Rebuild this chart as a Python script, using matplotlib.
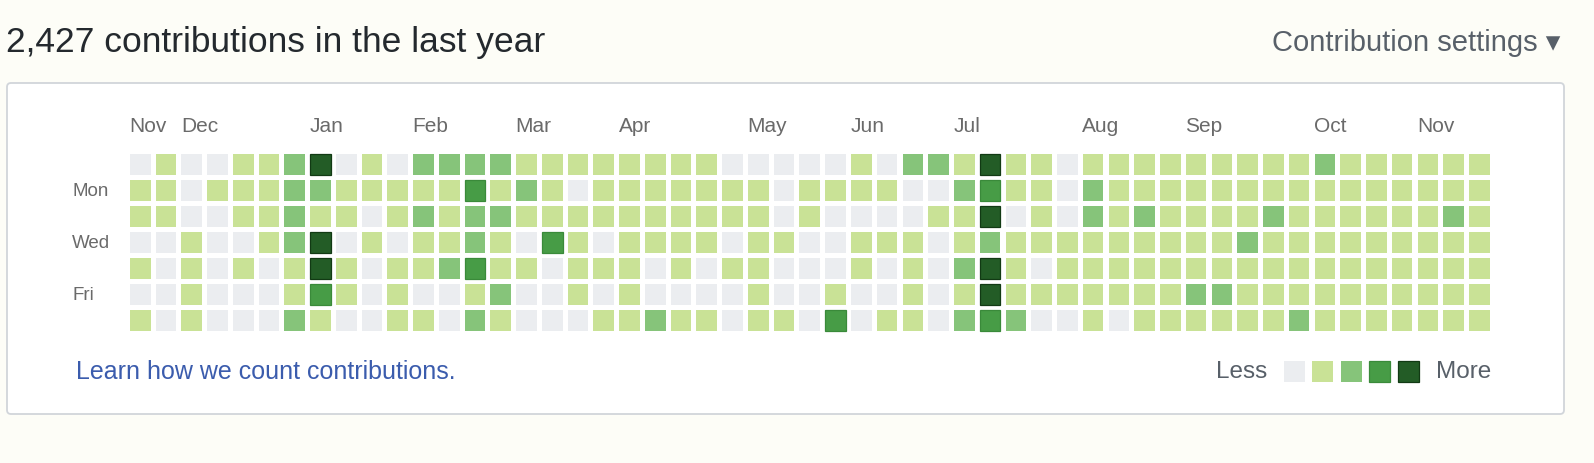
import matplotlib
matplotlib.use("Agg")
import matplotlib.pyplot as plt
from matplotlib.patches import Rectangle, FancyBboxPatch

plt.rcParams["font.family"] = ["Liberation Sans", "DejaVu Sans"]

W, H = 1594, 464

# contribution level per week (0 = none ... 4 = most), one list per weekday
sun = [0, 1, 0, 0, 1, 1, 2, 4, 0, 1, 0, 2, 2, 2, 2, 1, 1, 1, 1, 1, 1, 1, 1, 0, 0, 0, 0,
       0, 1, 0, 2, 2, 1, 4, 1, 1, 0, 1, 1, 1, 1, 1, 1, 1, 1, 1, 2, 1, 1, 1, 1, 1, 1]
mon = [1, 1, 0, 1, 1, 1, 2, 2, 1, 1, 1, 1, 1, 3, 1, 2, 1, 0, 1, 1, 1, 1, 1, 1, 1, 0, 1,
       1, 1, 1, 0, 0, 2, 3, 1, 1, 0, 2, 1, 1, 1, 1, 1, 1, 1, 1, 1, 1, 1, 1, 1, 1, 1]
tue = [1, 1, 0, 0, 1, 1, 2, 1, 1, 0, 1, 2, 1, 2, 2, 1, 1, 1, 1, 1, 1, 1, 1, 1, 1, 0, 1,
       0, 0, 0, 0, 1, 1, 4, 0, 1, 0, 2, 1, 2, 1, 1, 1, 1, 2, 1, 1, 1, 1, 1, 1, 2, 1]
wed = [0, 0, 1, 0, 0, 1, 2, 4, 0, 1, 0, 1, 1, 2, 1, 0, 3, 1, 0, 1, 1, 1, 1, 0, 1, 1, 0,
       0, 1, 1, 1, 0, 1, 2, 1, 1, 1, 1, 1, 1, 1, 1, 1, 2, 1, 1, 1, 1, 1, 1, 1, 1, 1]
thu = [1, 0, 1, 0, 1, 0, 1, 4, 1, 0, 1, 1, 2, 3, 1, 1, 0, 1, 1, 1, 0, 1, 0, 1, 1, 0, 0,
       0, 1, 0, 1, 0, 2, 4, 1, 0, 1, 1, 1, 1, 1, 1, 1, 1, 1, 1, 1, 1, 1, 1, 1, 1, 1]
fri = [0, 0, 1, 0, 0, 0, 1, 3, 1, 0, 1, 0, 0, 1, 2, 0, 0, 1, 0, 1, 0, 0, 0, 0, 1, 0, 0,
       1, 0, 0, 1, 0, 1, 4, 1, 1, 1, 1, 1, 1, 1, 2, 2, 1, 1, 1, 1, 1, 1, 1, 1, 1, 1]
sat = [1, 0, 1, 0, 0, 0, 2, 1, 0, 0, 1, 1, 0, 2, 1, 0, 0, 0, 1, 1, 2, 1, 1, 0, 1, 1, 0,
       3, 0, 1, 1, 0, 2, 3, 2, 0, 0, 1, 0, 1, 1, 1, 1, 1, 1, 2, 1, 1, 1, 1, 1, 1, 1]
week_rows = [sun, mon, tue, wed, thu, fri, sat]

months = ["Nov", "Dec", "Jan", "Feb", "Mar", "Apr", "May",
          "Jun", "Jul", "Aug", "Sep", "Oct", "Nov"]
month_weeks = [0, 2, 7, 11, 15, 19, 24, 28, 32, 37, 41, 46, 50]
day_labels = ["Mon", "Wed", "Fri"]
day_rows = [1, 3, 5]
legend_levels = [0, 1, 2, 3, 4]

palette = ["#ebedf0", "#c9e296", "#86c47a", "#479c46", "#235c26"]
edge = {4: "#123a14", 3: "#3a8a3a"}

title = "2,427 contributions in the last year"
settings = "Contribution settings \u25BE"
learn = "Learn how we count contributions."


def fig_rect(x0, y0, x1, y1):
    # pixel box (top-left origin) -> figure fraction rect
    return [x0 / W, 1 - y1 / H, (x1 - x0) / W, (y1 - y0) / H]


fig = plt.figure(figsize=(W / 100, H / 100), dpi=100, facecolor="#fdfdf7")

# background panel with the rounded border
bg = fig.add_axes([0, 0, 1, 1])
bg.set_xlim(0, W); bg.set_ylim(H, 0); bg.axis("off")
bg.add_patch(FancyBboxPatch((7, 84), 1557, 331,
                            boxstyle="round,pad=0,rounding_size=4",
                            fc="white", ec="#d1d5da", lw=1.3))

# the calendar grid: x = week, y = weekday
n_weeks = len(sun)
ax = fig.add_axes(fig_rect(127.4, 152.5, 1492.2, 334.5))
ax.set_xlim(-0.5, n_weeks - 0.5)
ax.set_ylim(6.5, -0.5)
ax.axis("off")
for r, row in enumerate(week_rows):
    for c, v in enumerate(row):
        ax.add_patch(Rectangle((c - 0.4, r - 0.4), 0.8, 0.8,
                               fc=palette[v], ec=edge.get(v, "none"),
                               lw=0.9 if v in edge else 0))

for m, wk in zip(months, month_weeks):
    ax.text(wk - 0.42, -1.5, m, ha="left", va="center",
            fontsize=15, color="#6a6a6a", clip_on=False)
for d, r in zip(day_labels, day_rows):
    ax.text(-2.65, r, d, ha="left", va="center",
            fontsize=13.5, color="#6a6a6a", clip_on=False)

# legend swatches
lax = fig.add_axes(fig_rect(1279.8, 358.3, 1422.3, 386.8))
lax.set_xlim(-0.5, len(legend_levels) - 0.5)
lax.set_ylim(0.5, -0.5)
lax.axis("off")
for i, v in enumerate(legend_levels):
    lax.add_patch(Rectangle((i - 0.37, -0.37), 0.74, 0.74,
                            fc=palette[v], ec=edge.get(v, "none"),
                            lw=0.9 if v in edge else 0))
fig.text(1267 / W, 1 - 372 / H, "Less", ha="right", va="center",
         fontsize=17.5, color="#586069")
fig.text(1436 / W, 1 - 372 / H, "More", ha="left", va="center",
         fontsize=17.5, color="#586069")

# header and footer texts
fig.text(6 / W, 1 - 52 / H, title, ha="left", va="baseline",
         fontsize=25.5, color="#24292e")
fig.text(1560 / W, 1 - 51 / H, settings, ha="right", va="baseline",
         fontsize=21, color="#586069")
fig.text(76 / W, 1 - 372 / H, learn, ha="left", va="center",
         fontsize=18, color="#3b5cad")

fig.savefig("out.png", dpi=100, facecolor=fig.get_facecolor())
